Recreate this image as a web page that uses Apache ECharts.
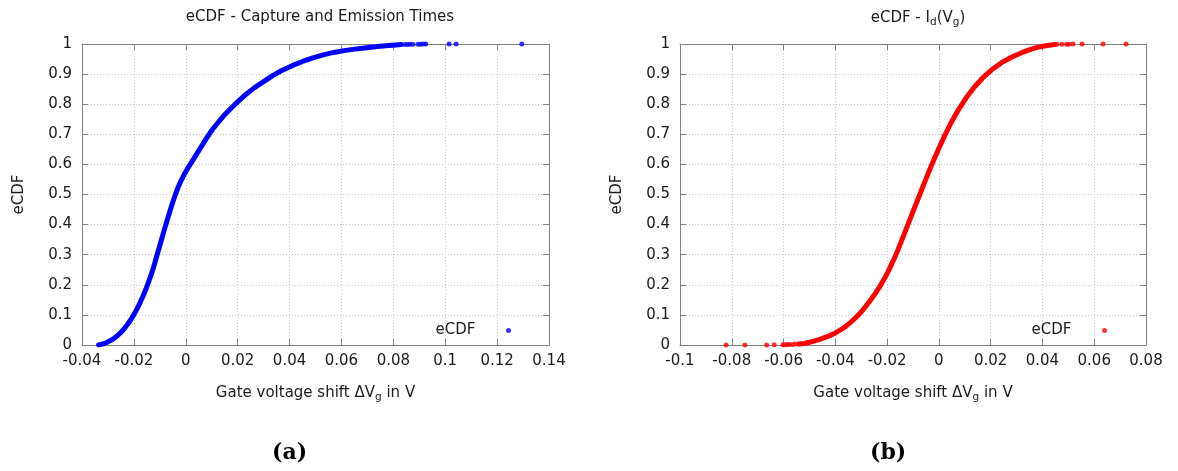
<!DOCTYPE html>
<html>
<head>
<meta charset="utf-8">
<script src="https://cdn.jsdelivr.net/npm/echarts@6/dist/echarts.min.js"></script>
<style>
html,body{margin:0;padding:0;background:#fff;}
#c{width:1178px;height:471px;}
</style>
</head>
<body>
<div id="c"></div>
<script>
// ---- Data ----
// Panel (a): eCDF - Capture and Emission Times  [gate voltage shift (V), eCDF]
const curveA = [
  [-0.0336,0.000],[-0.0322,0.003],[-0.0308,0.007],[-0.0294,0.013],[-0.0280,0.020],
  [-0.0266,0.029],[-0.0252,0.040],[-0.0238,0.053],[-0.0225,0.068],[-0.0212,0.084],
  [-0.0200,0.101],[-0.0188,0.120],[-0.0176,0.141],[-0.0165,0.162],[-0.0154,0.185],
  [-0.0144,0.208],[-0.0134,0.232],[-0.0125,0.256],[-0.0117,0.280],[-0.0109,0.304],
  [-0.0101,0.328],[-0.0093,0.352],[-0.0085,0.376],[-0.0077,0.400],[-0.0068,0.425],
  [-0.0059,0.450],[-0.0050,0.475],[-0.0040,0.500],[-0.0029,0.525],[-0.0017,0.548],
  [-0.0004,0.570],[0.0011,0.592],[0.0028,0.615],[0.0046,0.640],[0.0064,0.665],
  [0.0082,0.690],[0.0102,0.715],[0.0125,0.740],[0.0150,0.765],[0.0178,0.790],
  [0.0205,0.812],[0.0235,0.835],[0.0265,0.855],[0.0300,0.875],[0.0335,0.895],
  [0.0370,0.912],[0.0410,0.928],[0.0450,0.942],[0.0490,0.954],[0.0530,0.964],
  [0.0570,0.972],[0.0610,0.978],[0.0650,0.983],[0.0690,0.987],[0.0730,0.991],
  [0.0770,0.994],[0.0810,0.997],[0.0830,0.998]
];
const pointsA = [
  [0.0845,0.998],[0.0855,0.998],[0.0865,0.999],[0.0875,0.999],[0.0895,0.999],
  [0.0905,0.999],[0.0915,1.000],[0.0925,1.000],[0.1015,1.000],[0.1042,1.000],[0.1295,1.000]
];
// Panel (b): eCDF - Id(Vg)
const curveB = [
  [-0.0540,0.003],[-0.0520,0.005],[-0.0500,0.009],[-0.0480,0.014],[-0.0460,0.019],
  [-0.0440,0.025],[-0.0420,0.032],[-0.0400,0.040],[-0.0380,0.050],[-0.0360,0.062],
  [-0.0340,0.076],[-0.0325,0.088],[-0.0310,0.100],[-0.0295,0.115],[-0.0280,0.131],
  [-0.0265,0.148],[-0.0250,0.166],[-0.0236,0.184],[-0.0222,0.203],[-0.0209,0.223],
  [-0.0196,0.244],[-0.0184,0.266],[-0.0172,0.288],[-0.0160,0.312],[-0.0138,0.360],
  [-0.0116,0.408],[-0.0094,0.456],[-0.0072,0.504],[-0.0050,0.552],[-0.0027,0.600],
  [-0.0003,0.648],[0.0022,0.695],[0.0048,0.740],[0.0076,0.782],[0.0106,0.822],
  [0.0138,0.858],[0.0170,0.888],[0.0205,0.915],[0.0242,0.938],[0.0282,0.957],
  [0.0322,0.972],[0.0360,0.984],[0.0395,0.992],[0.0425,0.996],[0.0448,0.998]
];
const pointsB = [
  [-0.0822,0.000],[-0.0749,0.000],[-0.0665,0.000],[-0.0636,0.001],[-0.0603,0.001],
  [-0.0595,0.001],[-0.0585,0.002],[-0.0578,0.002],[-0.0565,0.002],[-0.0555,0.003],
  [0.0456,0.999],[0.0475,0.999],[0.0494,0.999],[0.0502,0.999],[0.0518,1.000],
  [0.0553,1.000],[0.0634,1.000],[0.0723,1.000]
];
const xRangeA = [-0.04, 0.14];
const xRangeB = [-0.1, 0.08];
const yRange = [0, 1];
const titles = ['eCDF - Capture and Emission Times', '{n|eCDF - I}{s|d}{n|(V}{s|g}{n|)}'];
const xName = '{n|Gate voltage shift ΔV}{s|g}{n| in V}';
const yName = 'eCDF';
const captions = ['(a)', '(b)'];
const legendName = 'eCDF';

// ---- Styling ----
const FONT = '"DejaVu Sans", sans-serif';
const FS = 15;
const TXT = '#1a1a1a';
const AX = '#808080';
const GRID = '#c8c8c8';
const grids = [
  {left: 82, right: 1178 - 549, top: 44, bottom: 471 - 345},
  {left: 680, right: 1178 - 1146, top: 44, bottom: 471 - 345}
];
const fmt = v => String(+(+v).toFixed(3));
const rich = {
  n: {fontFamily: FONT, fontSize: FS, color: TXT},
  s: {fontFamily: FONT, fontSize: 10.5, color: TXT, padding: [9, 0, 0, 0]}
};

function xAxes(gi, range) {
  return [{
    gridIndex: gi, type: 'value', min: range[0], max: range[1], interval: 0.02,
    position: 'bottom',
    axisLine: {show: true, onZero: false, lineStyle: {color: AX, width: 1}},
    axisTick: {show: true, inside: true, length: 6, lineStyle: {color: AX}},
    axisLabel: {formatter: fmt, color: TXT, fontFamily: FONT, fontSize: FS, margin: 9},
    splitLine: {show: true, lineStyle: {color: GRID, type: [1, 2], width: 1}},
    name: xName, nameLocation: 'middle', nameGap: 38,
    nameTextStyle: {rich: rich}
  }, {
    gridIndex: gi, type: 'value', min: range[0], max: range[1], interval: 0.02,
    position: 'top',
    axisLine: {show: true, onZero: false, lineStyle: {color: AX, width: 1}},
    axisTick: {show: true, inside: true, length: 6, lineStyle: {color: AX}},
    axisLabel: {show: false}, splitLine: {show: false}
  }];
}
function yAxes(gi) {
  return [{
    gridIndex: gi, type: 'value', min: yRange[0], max: yRange[1], interval: 0.1,
    position: 'left',
    axisLine: {show: true, onZero: false, lineStyle: {color: AX, width: 1}},
    axisTick: {show: true, inside: true, length: 6, lineStyle: {color: AX}},
    axisLabel: {formatter: fmt, color: TXT, fontFamily: FONT, fontSize: FS, margin: 10},
    splitLine: {show: true, lineStyle: {color: GRID, type: [1, 2], width: 1}},
    name: yName, nameLocation: 'middle', nameGap: 55, nameRotate: 90,
    nameTextStyle: {color: TXT, fontFamily: FONT, fontSize: FS}
  }, {
    gridIndex: gi, type: 'value', min: yRange[0], max: yRange[1], interval: 0.1,
    position: 'right',
    axisLine: {show: true, onZero: false, lineStyle: {color: AX, width: 1}},
    axisTick: {show: true, inside: true, length: 6, lineStyle: {color: AX}},
    axisLabel: {show: false}, splitLine: {show: false}
  }];
}

const chart = echarts.init(document.getElementById('c'), null, {renderer: 'canvas'});
const option = {
  animation: false,
  backgroundColor: '#fff',
  title: [
    {text: titles[0], left: 315, textAlign: 'center', top: 5,
     textStyle: {fontFamily: FONT, fontSize: FS, fontWeight: 'normal', color: TXT}},
    {text: titles[1], left: 913, textAlign: 'center', top: 3,
     textStyle: {fontFamily: FONT, fontSize: FS, fontWeight: 'normal', color: TXT, rich: rich}}
  ],
  grid: grids,
  xAxis: [...xAxes(0, xRangeA), ...xAxes(1, xRangeB)],
  yAxis: [...yAxes(0), ...yAxes(1)],
  legend: [
    {data: [{name: 'eCDF (a)', icon: 'circle'}], align: 'right', orient: 'vertical',
     right: 1178 - 516, top: 318, itemWidth: 56, itemHeight: 5,
     formatter: () => legendName, selectedMode: false,
     textStyle: {fontFamily: FONT, fontSize: FS, color: TXT}},
    {data: [{name: 'eCDF (b)', icon: 'circle'}], align: 'right', orient: 'vertical',
     right: 1178 - 1112, top: 318, itemWidth: 56, itemHeight: 5,
     formatter: () => legendName, selectedMode: false,
     textStyle: {fontFamily: FONT, fontSize: FS, color: TXT}}
  ],
  series: [
    {name: 'curve (a)', type: 'line', xAxisIndex: 0, yAxisIndex: 0, data: curveA,
     symbol: 'none', lineStyle: {color: '#0000ff', width: 5, cap: 'round', join: 'round'}, z: 3},
    {name: 'eCDF (a)', type: 'scatter', xAxisIndex: 0, yAxisIndex: 0, data: pointsA,
     symbol: 'circle', symbolSize: 5, itemStyle: {color: '#0000ff'}, z: 4},
    {name: 'curve (b)', type: 'line', xAxisIndex: 2, yAxisIndex: 2, data: curveB,
     symbol: 'none', lineStyle: {color: '#ff0000', width: 5, cap: 'round', join: 'round'}, z: 3},
    {name: 'eCDF (b)', type: 'scatter', xAxisIndex: 2, yAxisIndex: 2, data: pointsB,
     symbol: 'circle', symbolSize: 5, itemStyle: {color: '#ff0000'}, z: 4}
  ],
  graphic: [
    {type: 'text', left: 290 - 18, top: 442,
     style: {text: captions[0], font: 'bold 22px "DejaVu Serif", serif', fill: '#000'}},
    {type: 'text', left: 888 - 18, top: 442,
     style: {text: captions[1], font: 'bold 22px "DejaVu Serif", serif', fill: '#000'}}
  ]
};
chart.setOption(option);
</script>
</body>
</html>
